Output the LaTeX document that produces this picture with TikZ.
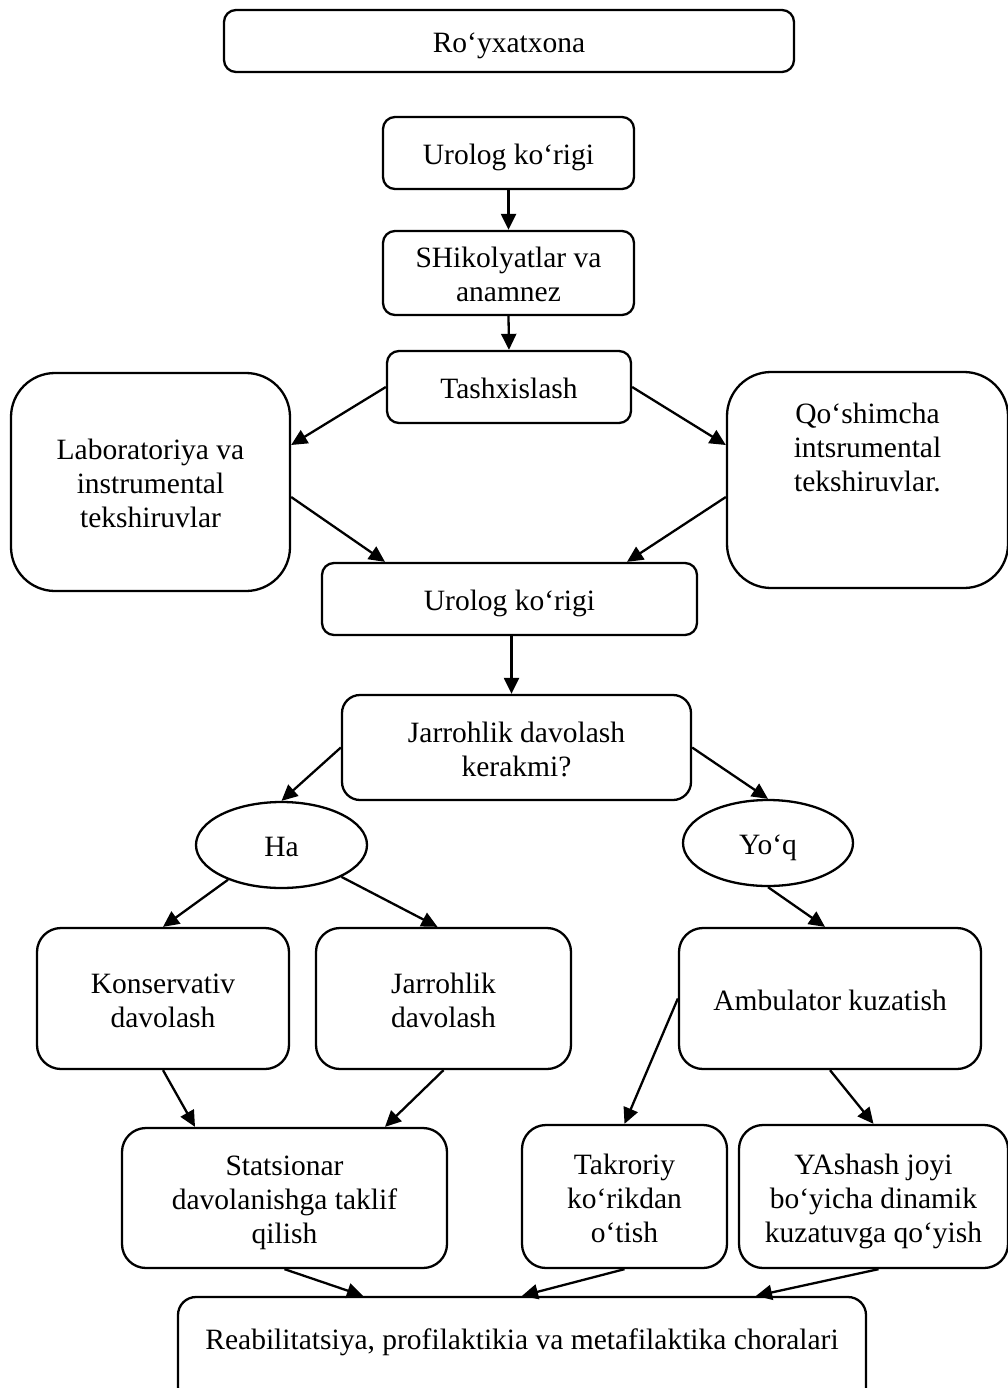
\documentclass[tikz,border=0pt]{standalone}
\usepackage{fontspec}
\setmainfont{Liberation Serif}
\usetikzlibrary{arrows.meta,shapes.geometric,calc}
\newcommand\tstr{\rule[-7pt]{0pt}{37pt}}
\newcommand\bstr{\rule[-7pt]{0pt}{7pt}}
\begin{document}
\begin{tikzpicture}[x=1pt,y=-1pt,
  box/.style={draw, line width=2.3pt, align=center, inner sep=0pt,
    font=\fontsize{29.5}{34}\selectfont},
  sbox/.style={box, rounded corners=12pt},
  mbox/.style={box, rounded corners=24pt},
  bbox/.style={box, rounded corners=44pt},
  oval/.style={draw, line width=2.3pt, ellipse, inner sep=0pt,
    font=\fontsize{29.5}{34}\selectfont},
  arr/.style={line width=2.3pt, -{Triangle[length=16pt,width=15pt]}}]
\useasboundingbox (0,0) rectangle (1008,1388);

\node[sbox, minimum width=570pt, minimum height=62pt] (reg) at (509,41) {\tstr Ro‘yxatxona\bstr};
\node[sbox, minimum width=251pt, minimum height=72pt] (u1) at (508.5,153) {\tstr Urolog ko‘rigi\bstr};
\node[sbox, minimum width=251pt, minimum height=84pt] (shik) at (508.5,273) {\tstr SHikolyatlar va\\anamnez\bstr};
\node[sbox, minimum width=244pt, minimum height=72pt] (tash) at (509,387) {\tstr Tashxislash\bstr};
\node[bbox, minimum width=279pt, minimum height=218pt] (lab) at (150.5,482) {\tstr Laboratoriya va\\instrumental\\tekshiruvlar\bstr};
\node[bbox, minimum width=281pt, minimum height=216pt] (qosh) at (867.5,480) {\tstr Qo‘shimcha\\intsrumental\\tekshiruvlar.\\ \mbox{}\\ \mbox{}\bstr};
\node[sbox, minimum width=375pt, minimum height=72pt] (u2) at (509.5,599) {\tstr Urolog ko‘rigi\bstr};
\node[mbox, rounded corners=18pt, minimum width=349pt, minimum height=105pt] (jk) at (516.5,747.5) {\tstr Jarrohlik davolash\\kerakmi?\bstr};
\node[oval, minimum width=171pt, minimum height=86pt] (ha) at (281.5,845) {\tstr Ha\bstr};
\node[oval, minimum width=170pt, minimum height=86pt] (yoq) at (768,843) {\tstr Yo‘q\bstr};
\node[mbox, minimum width=252pt, minimum height=141pt] (kons) at (163,998.5) {\tstr Konservativ\\davolash\bstr};
\node[mbox, minimum width=255pt, minimum height=141pt] (jd) at (443.5,998.5) {\tstr Jarrohlik\\davolash\bstr};
\node[mbox, minimum width=302pt, minimum height=141pt] (amb) at (830,998.5) {\tstr Ambulator kuzatish\bstr};
\node[mbox, minimum width=325pt, minimum height=140pt] (stat) at (284.5,1198) {\tstr Statsionar\\davolanishga taklif\\qilish\bstr};
\node[mbox, minimum width=205pt, minimum height=143pt] (tak) at (624.5,1196.5) {\tstr Takroriy\\ko‘rikdan\\o‘tish\bstr};
\node[mbox, minimum width=269pt, minimum height=143pt] (yash) at (873.5,1196.5) {\tstr YAshash joyi\\bo‘yicha dinamik\\kuzatuvga qo‘yish\bstr};
\node[mbox, rounded corners=18pt, minimum width=688pt, minimum height=108pt] (reab) at (522,1351) {\tstr Reabilitatsiya, profilaktikia va metafilaktika choralari\\ \mbox{}};

\draw[arr] (u1.south) -- (shik.north);
\draw[arr] (shik.south) -- (tash.north);
\draw[arr] (tash.west) -- ([shift={(0,-37)}]lab.east);
\draw[arr] (tash.east) -- ([shift={(0,-35)}]qosh.west);
\draw[arr] ([shift={(0,15)}]lab.east) -- ([shift={(-124.5,0)}]u2.north);
\draw[arr] ([shift={(0,17)}]qosh.west) -- ([shift={(117.5,0)}]u2.north);
\draw[arr] ([shift={(2,0)}]u2.south) -- ([shift={(2,0)}]u2.south |- jk.north);
\draw[arr] (jk.west) -- (ha.north);
\draw[arr] (jk.east) -- (yoq.north);
\draw[arr] (ha.213) -- (kons.north);
\draw[arr] (ha.332) -- ([shift={(-6,0)}]jd.north);
\draw[arr] (yoq.south) -- ([shift={(-5,0)}]amb.north);
\draw[arr] (amb.west) -- (tak.north);
\draw[arr] (amb.south) -- (yash.north);
\draw[arr] (kons.south) -- ([shift={(-89.5,0)}]stat.north);
\draw[arr] (jd.south) -- ([shift={(100.5,0)}]stat.north);
\draw[arr] (stat.south) -- ([shift={(-159,0)}]reab.north);
\draw[arr] (tak.south) -- (reab.north);
\draw[arr] ([shift={(5,0)}]yash.south) -- ([shift={(234,0)}]reab.north);
\end{tikzpicture}
\end{document}
